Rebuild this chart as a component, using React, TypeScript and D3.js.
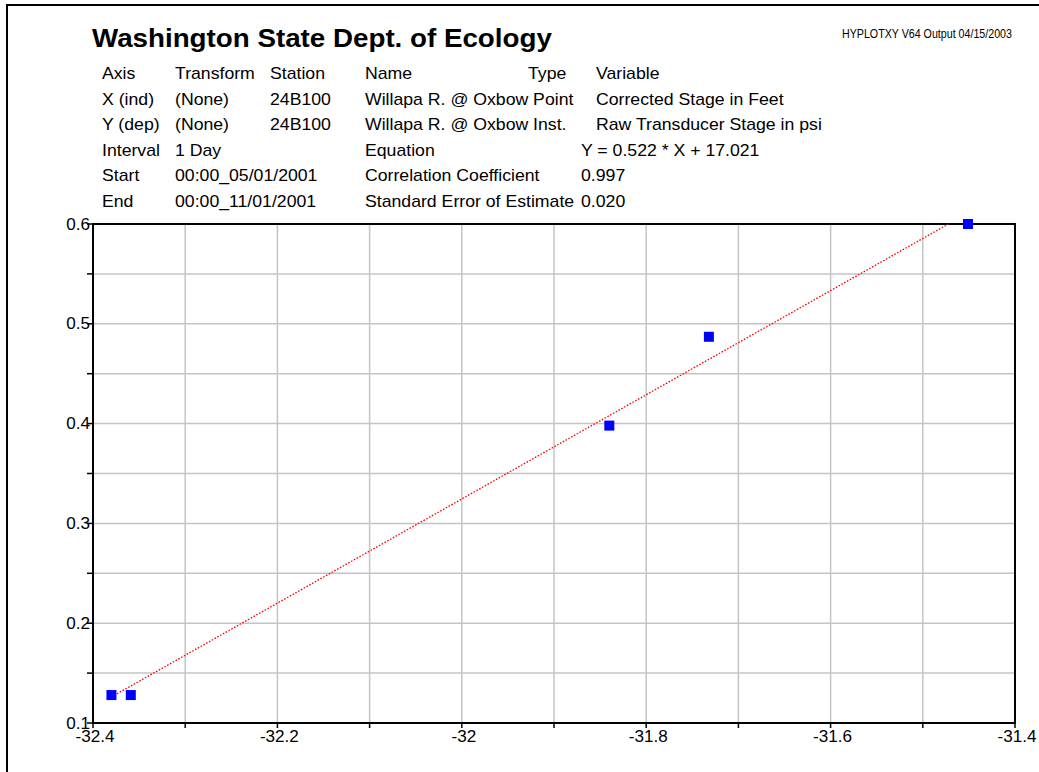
import React from "react";
import * as d3 from "d3";

// ---- data ----
const xValues = [-32.38, -32.359, -31.84, -31.732, -31.451];
const yValues = [0.128, 0.128, 0.398, 0.487, 0.6];
const lineSlope = 0.522;
const lineIntercept = 17.0285;
const xTickValues = [-32.4, -32.2, -32, -31.8, -31.6, -31.4];
const yTickValues = [0.1, 0.2, 0.3, 0.4, 0.5, 0.6];

const titleText = "Washington State Dept. of Ecology";
const stampText = "HYPLOTXY V64  Output 04/15/2003";
const headerAxis = ["Axis", "X (ind)", "Y (dep)", "Interval", "Start", "End"];
const headerTransform = ["Transform", "(None)", "(None)", "1 Day", "00:00_05/01/2001", "00:00_11/01/2001"];
const headerStation = ["Station", "24B100", "24B100", "", "", ""];
const headerName = ["Name", "Willapa R. @ Oxbow Point", "Willapa R. @ Oxbow Inst.", "Equation", "Correlation Coefficient", "Standard Error of Estimate"];
const headerType = ["Type", "", "", "", "", ""];
const headerVariable = ["Variable", "Corrected Stage in Feet", "Raw Transducer Stage in psi", "Y = 0.522 * X + 17.021", "0.997", "0.020"];

// ---- layout ----
const W = 1039;
const H = 772;
const plot = { left: 93, right: 1015, top: 224, bottom: 723 };
const FONT = "'Liberation Sans', Arial, Helvetica, sans-serif";

export default function App() {
  const x = d3.scaleLinear().domain([-32.4, -31.4]).range([plot.left, plot.right]);
  const y = d3.scaleLinear().domain([0.1, 0.6]).range([plot.bottom, plot.top]);

  const xGrid = d3.range(1, 10).map((i) => -32.4 + i * 0.1);
  const yGrid = d3.range(1, 10).map((i) => 0.1 + i * 0.05);
  const xMinor = d3.range(0, 11).map((i) => -32.4 + i * 0.1);
  const yMinor = d3.range(0, 11).map((i) => 0.1 + i * 0.05);

  const x0 = d3.min(xValues) as number;
  const x1 = (0.6 - lineIntercept) / lineSlope;
  const fitLine = d3.line<number>()
    .x((d) => x(d))
    .y((d) => y(lineSlope * d + lineIntercept));

  const rowY = (i: number) => 79 + i * 25.6;
  const colX = [102, 175, 270, 365, 528, 596];
  const varX = (i: number) => (i >= 3 ? 581 : 596);
  const hs = 1.04;

  const headerText = (t: string, xx: number, yy: number, key: string) =>
    t ? (
      <text key={key} transform={`translate(${xx},${yy}) scale(${hs},1)`} fontSize={17} fontFamily={FONT} fill="#000">
        {t}
      </text>
    ) : null;

  return (
    <div style={{ position: "absolute", left: 0, top: 0 }}>
      <svg width={W} height={H} style={{ display: "block", background: "#fff" }}>
        <rect x={0} y={0} width={W} height={H} fill="#fff" />
        {/* page frame */}
        <path d={`M7,${H} V5 H${W}`} fill="none" stroke="#000" strokeWidth={2} />

        {/* title */}
        <text transform={`translate(92,47) scale(1.11,1)`} fontSize={25} fontWeight="bold" fontFamily={FONT} fill="#000">
          {titleText}
        </text>
        <text transform={`translate(842,38) scale(0.89,1)`} fontSize={12} fontFamily={FONT} fill="#000">
          {stampText}
        </text>

        {/* header table */}
        {headerAxis.map((t, i) => headerText(t, colX[0], rowY(i), "a" + i))}
        {headerTransform.map((t, i) => headerText(t, colX[1], rowY(i), "t" + i))}
        {headerStation.map((t, i) => headerText(t, colX[2], rowY(i), "s" + i))}
        {headerName.map((t, i) => headerText(t, colX[3], rowY(i), "n" + i))}
        {headerType.map((t, i) => headerText(t, colX[4], rowY(i), "ty" + i))}
        {headerVariable.map((t, i) => headerText(t, varX(i), rowY(i), "v" + i))}

        {/* grid */}
        {xGrid.map((v, i) => (
          <line key={"gx" + i} x1={x(v)} x2={x(v)} y1={plot.top} y2={plot.bottom} stroke="#c4c4c4" strokeWidth={1.5} />
        ))}
        {yGrid.map((v, i) => (
          <line key={"gy" + i} x1={plot.left} x2={plot.right} y1={y(v)} y2={y(v)} stroke="#c4c4c4" strokeWidth={1.5} />
        ))}

        {/* ticks */}
        {xMinor.map((v, i) => (
          <line key={"tx" + i} x1={x(v)} x2={x(v)} y1={plot.bottom} y2={plot.bottom + 5} stroke="#000" strokeWidth={1.5} />
        ))}
        {yMinor.map((v, i) => (
          <line key={"ty" + i} x1={plot.left - 6} x2={plot.left} y1={y(v)} y2={y(v)} stroke="#000" strokeWidth={1.5} />
        ))}

        {/* frame */}
        <rect x={plot.left} y={plot.top} width={plot.right - plot.left} height={plot.bottom - plot.top} fill="none" stroke="#000" strokeWidth={2} />

        {/* tick labels */}
        {xTickValues.map((v, i) => (
          <text key={"lx" + i} transform={`translate(${x(v) + 2},${plot.bottom + 19}) scale(1.07,1)`} textAnchor="middle" fontSize={16} fontFamily={FONT} fill="#000">
            {d3.format("")(v).replace("−", "-")}
          </text>
        ))}
        {yTickValues.map((v, i) => (
          <text key={"ly" + i} transform={`translate(90,${y(v) + 5.5}) scale(1.07,1)`} textAnchor="end" fontSize={16} fontFamily={FONT} fill="#000">
            {String(v)}
          </text>
        ))}

        {/* regression line */}
        <path d={fitLine([x0, x1]) || ""} fill="none" stroke="#ff0000" strokeWidth={1.3} strokeDasharray="1.6 1.6" />

        {/* points */}
        {xValues.map((v, i) => (
          <rect key={"p" + i} x={x(v) - 5} y={y(yValues[i]) - 5} width={10} height={10} fill="#0000ff" />
        ))}
      </svg>
    </div>
  );
}
